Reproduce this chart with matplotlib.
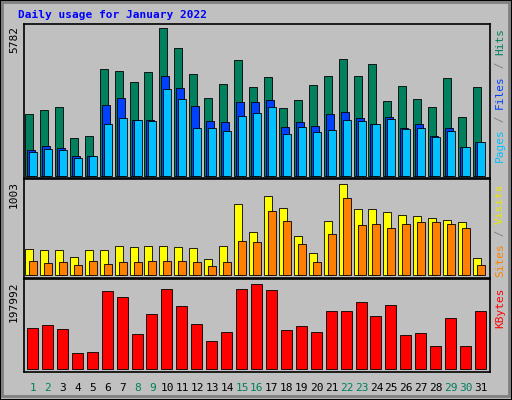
import matplotlib
matplotlib.use("Agg")
import matplotlib.pyplot as plt
from matplotlib.patches import Rectangle

days = list(range(1, 32))
hits = [2422,2579,2696,1485,1563,4180,4102,3673,4063,5782,5001,3985,3047,3594,4532,3477,
        3868,2657,2969,3555,3907,4571,3907,4376,2930,3516,3008,2696,3829,2305,3477]
files = [1016,1172,1094,781,781,2774,3047,2188,2188,3907,3438,2735,2149,2110,2891,2891,
         2969,1914,2110,1953,2422,2500,2266,2032,2305,1875,2032,1563,1875,1133,1328]
pages = [938,1055,1016,703,781,2032,2266,2188,2149,3399,3008,1875,1875,1758,2344,2461,
         2696,1641,1914,1719,1797,2188,2149,2032,2227,1836,1875,1524,1758,1133,1328]
visits = [287,276,276,198,276,276,320,309,320,320,309,298,176,320,783,474,871,739,430,243,
          595,1003,727,727,694,661,650,628,606,584,187]
sites = [154,132,143,110,154,121,143,143,154,154,154,143,99,143,375,364,705,595,342,143,
         452,849,551,562,518,562,584,584,562,518,110]
kbytes = [95489,102476,93160,37264,39593,181662,167688,81515,128095,186320,146727,104805,
          65212,86173,186320,197992,183991,90831,100147,86173,135082,135082,156043,123437,
          149056,79186,83844,53567,118779,53567,135082]
weekend = {1, 2, 8, 9, 15, 16, 22, 23, 29, 30}

W, H = 512, 400
BG = "#c0c0c0"
fig = plt.figure(figsize=(W/100, H/100), dpi=100, facecolor=BG)
MONO = "DejaVu Sans Mono"
PX = 1/14.93  # data units per pixel in x

def fx(px): return px / W
def fy(py): return 1 - py / H

def make_ax(top, bot):
    ax = fig.add_axes([fx(24), fy(bot), fx(490 - 24), (bot - top) / H])
    ax.set_facecolor(BG)
    ax.set_xlim(1 - 9 * PX, 31 + 9 * PX)
    ax.set_xticks([]); ax.set_yticks([])
    for s in ax.spines.values():
        s.set_linewidth(1.2); s.set_color("black")
    return ax

def set_y(ax, top, bot, vmax, toppad, botpad):
    h = bot - top
    scale = vmax / (h - toppad - botpad)
    ax.set_ylim(-botpad * scale, (h - botpad) * scale)

def bars(ax, vals, off, wpx, color):
    ax.bar([d + off * PX for d in days], vals, width=wpx * PX, align="edge",
           color=color, edgecolor="black", linewidth=0.6)

a1 = make_ax(24, 178); set_y(a1, 24, 178, 5782, 4, 2)
bars(a1, hits, -8, 8, "#00805c")
bars(a1, files, -6, 8, "#0040ff")
bars(a1, pages, -4, 8, "#00c0ff")

a2 = make_ax(179, 278); set_y(a2, 179, 278, 1003, 5, 3)
bars(a2, visits, -8, 8, "#ffff00")
bars(a2, sites, -4, 8, "#ff8000")

a3 = make_ax(279, 372); set_y(a3, 279, 372, 197992, 5, 3)
bars(a3, kbytes, -6, 11, "#ff0000")

fig.text(fx(18), fy(15), "Daily usage for January 2022", color="#0000ff",
         fontsize=8, fontweight="bold", family=MONO, va="center", ha="left")

for lab, top in (("5782", 26), ("1003", 181), ("197992", 281)):
    fig.text(fx(14), fy(top), lab, rotation=90, fontsize=8, family=MONO,
             va="top", ha="center", color="black")

CH = 6.7
def right_label(top, segs):
    idx = 0
    for text, col in segs:
        if text.strip():
            fig.text(fx(500), fy(top + idx * CH), text, rotation=90, fontsize=8,
                     family=MONO, color=col, va="top", ha="center")
        idx += len(text)

right_label(28, [("Hits", "#00805c"), (" / ", "#808080"), ("Files", "#0040ff"),
                 (" / ", "#808080"), ("Pages", "#00c0ff")])
right_label(183, [("Visits", "#e8e800"), (" / ", "#808080"), ("Sites", "#ff8000")])
right_label(288, [("KBytes", "#ff0000")])

for d in days:
    xp = 33 + (d - 1) * 14.93
    fig.text(fx(xp), fy(388), str(d), fontsize=8, family=MONO, ha="center", va="center",
             color="#00805c" if d in weekend else "black")

fig.add_artist(Rectangle((fx(2), fy(396)), fx(507), (396 - 2) / H, transform=fig.transFigure,
                         fill=False, edgecolor="#808080", linewidth=2))
fig.add_artist(Rectangle((0, 0), 1, 1, transform=fig.transFigure,
                         fill=False, edgecolor="black", linewidth=1.5))

fig.savefig("out.png", dpi=100, facecolor=BG)
